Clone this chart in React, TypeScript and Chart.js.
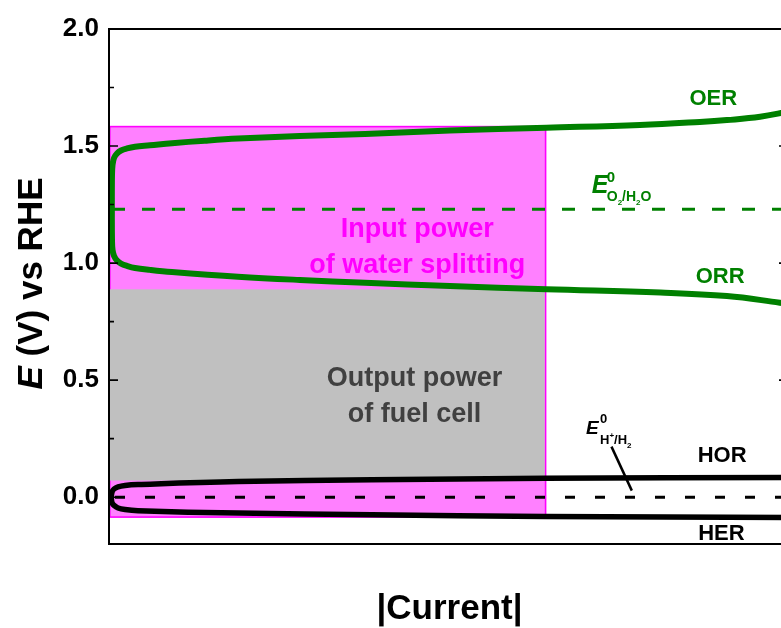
import React, { useEffect, useRef } from 'react';
import { Chart, registerables } from 'chart.js';

Chart.register(...registerables);

// Axis ranges and ticks
const X_MIN = 0;
const X_MAX = 100;
const Y_MIN = -0.2;
const Y_MAX = 2.0;
const Y_TICKS = [0, 0.5, 1.0, 1.5, 2.0];
const Y_MINOR_TICKS = [0.25, 0.75, 1.25, 1.75];

// Oxygen electrode polarization: ORR branch (high -> low current), through E0, then OER branch
const OXYGEN_CURRENT = [
  100, 98.8, 91.0, 81.2, 64.4, 50.2, 37.7, 28.1, 19.0, 9.28, 6.04, 3.83, 2.65, 1.77, 1.18, 0.74, 0.52, 0.44,
  0.42,
  0.44, 0.52, 0.74, 1.18, 1.77, 2.65, 3.83, 6.04, 9.28, 14.1, 19.0, 28.1, 37.7, 50.2, 64.4, 78.2, 87.0, 91.0, 95.9, 100,
];
const OXYGEN_POTENTIAL = [
  0.826, 0.831, 0.859, 0.874, 0.888, 0.902, 0.916, 0.928, 0.942, 0.962, 0.971, 0.979, 0.988, 0.998, 1.011, 1.031, 1.056, 1.099,
  1.231,
  1.376, 1.419, 1.449, 1.468, 1.481, 1.490, 1.497, 1.503, 1.512, 1.523, 1.532, 1.543, 1.551, 1.566, 1.578, 1.590, 1.603, 1.611, 1.625, 1.647,
];

// Hydrogen electrode polarization: HER branch (high -> low current), through E0, then HOR branch
const HYDROGEN_CURRENT = [100, 64.2, 38.7, 19.0, 4.27, 2.36, 1.33, 0.74, 0.44, 0.34, 0.44, 0.74, 1.33, 2.36, 4.27, 19.0, 38.7, 64.2, 100];
const HYDROGEN_POTENTIAL = [-0.087, -0.082, -0.075, -0.068, -0.058, -0.053, -0.046, -0.035, -0.023, 0, 0.022, 0.035, 0.044, 0.050, 0.054, 0.067, 0.074, 0.081, 0.084];

// Standard potentials
const E0_O2 = 1.23;
const E0_H2 = 0;

// Operating current and the potentials bounding the power regions
const OPERATING_CURRENT = 64.3;
const INPUT_TOP = 1.583;
const INPUT_BOTTOM = -0.085;
const OUTPUT_TOP = 0.888;
const OUTPUT_BOTTOM = 0.071;

const GREEN = '#008000';
const MAGENTA = '#FF00FF';
const PINK = '#FF80FF';
const GRAY = '#C0C0C0';
const FAMILY = '"Liberation Sans", Arial, Helvetica, sans-serif';

const bold = (size: number, italic = false) => `${italic ? 'italic ' : ''}bold ${size}px ${FAMILY}`;

type Part = { text: string; font: string; dx?: number; dy?: number };

function drawParts(ctx: CanvasRenderingContext2D, parts: Part[], x: number, y: number) {
  let cx = x;
  for (const p of parts) {
    ctx.font = p.font;
    cx += p.dx || 0;
    ctx.fillText(p.text, cx, y + (p.dy || 0));
    cx += ctx.measureText(p.text).width;
  }
}

function partsWidth(ctx: CanvasRenderingContext2D, parts: Part[]) {
  let w = 0;
  for (const p of parts) {
    ctx.font = p.font;
    w += ctx.measureText(p.text).width + (p.dx || 0);
  }
  return w;
}

const regionsPlugin = {
  id: 'powerRegions',
  beforeDatasetsDraw(chart: any) {
    const { ctx, scales } = chart;
    const x = scales.x;
    const y = scales.y;
    const x0 = x.getPixelForValue(0);
    const x1 = x.getPixelForValue(OPERATING_CURRENT);
    ctx.save();
    const pt = y.getPixelForValue(INPUT_TOP);
    const pb = y.getPixelForValue(INPUT_BOTTOM);
    ctx.fillStyle = PINK;
    ctx.fillRect(x0, pt, x1 - x0, pb - pt);
    ctx.strokeStyle = MAGENTA;
    ctx.lineWidth = 1.6;
    ctx.strokeRect(x0 + 0.8, pt, x1 - x0 - 0.8, pb - pt);
    const gt = y.getPixelForValue(OUTPUT_TOP);
    const gb = y.getPixelForValue(OUTPUT_BOTTOM);
    ctx.fillStyle = GRAY;
    ctx.fillRect(x0, gt, x1 - x0 - 0.9, gb - gt);
    ctx.restore();
  },
};

const annotationPlugin = {
  id: 'annotations',
  afterDatasetsDraw(chart: any) {
    const { ctx, scales, chartArea } = chart;
    const x = scales.x;
    const y = scales.y;
    const px = (v: number) => x.getPixelForValue(v);
    const py = (v: number) => y.getPixelForValue(v);
    ctx.save();

    // frame
    ctx.strokeStyle = '#000';
    ctx.lineWidth = 2;
    ctx.strokeRect(chartArea.left, chartArea.top, chartArea.right - chartArea.left, chartArea.bottom - chartArea.top);

    // inward ticks on left and right axes
    ctx.lineWidth = 1.6;
    ctx.beginPath();
    for (const v of Y_TICKS) {
      const yy = py(v);
      ctx.moveTo(chartArea.left, yy);
      ctx.lineTo(chartArea.left + 9, yy);
      ctx.moveTo(chartArea.right, yy);
      ctx.lineTo(chartArea.right - 9, yy);
    }
    for (const v of Y_MINOR_TICKS) {
      const yy = py(v);
      ctx.moveTo(chartArea.left, yy);
      ctx.lineTo(chartArea.left + 5, yy);
      ctx.moveTo(chartArea.right, yy);
      ctx.lineTo(chartArea.right - 5, yy);
    }
    ctx.stroke();

    ctx.textBaseline = 'alphabetic';

    // curve labels
    ctx.textAlign = 'center';
    ctx.font = bold(22);
    ctx.fillStyle = GREEN;
    ctx.fillText('OER', px(89.0), py(1.676));
    ctx.fillText('ORR', px(90.0), py(0.915));
    ctx.fillStyle = '#000';
    ctx.fillText('HOR', px(90.3), py(0.150));
    ctx.fillText('HER', px(90.2), py(-0.183));

    // region labels
    ctx.font = bold(27);
    ctx.fillStyle = MAGENTA;
    ctx.fillText('Input power', px(45.4), py(1.111));
    ctx.fillText('of water splitting', px(45.4), py(0.958));
    ctx.fillStyle = '#404040';
    ctx.fillText('Output power', px(45.0), py(0.475));
    ctx.fillText('of fuel cell', px(45.0), py(0.323));

    // E0 (O2/H2O)
    ctx.textAlign = 'left';
    ctx.fillStyle = GREEN;
    {
      const ex = px(71.1);
      const ey = py(1.301);
      ctx.font = bold(25, true);
      ctx.fillText('E', ex, ey);
      ctx.font = bold(15);
      ctx.fillText('0', ex + 15, ey - 10.7);
      drawParts(ctx, [
        { text: 'O', font: bold(14) },
        { text: '2', font: bold(8), dy: 4 },
        { text: '/H', font: bold(14) },
        { text: '2', font: bold(8), dy: 4 },
        { text: 'O', font: bold(14) },
      ], ex + 15, ey + 8);
    }

    // E0 (H+/H2)
    ctx.fillStyle = '#000';
    {
      const ex = px(70.25);
      const ey = py(0.269);
      ctx.font = bold(19, true);
      ctx.fillText('E', ex, ey);
      ctx.font = bold(13);
      ctx.fillText('0', ex + 14, ey - 11.6);
      drawParts(ctx, [
        { text: 'H', font: bold(13) },
        { text: '+', font: bold(8), dy: -6 },
        { text: '/H', font: bold(13) },
        { text: '2', font: bold(8), dy: 3.5 },
      ], ex + 14, ey + 10);
      ctx.strokeStyle = '#000';
      ctx.lineWidth = 2.5;
      ctx.beginPath();
      ctx.moveTo(px(74.0), py(0.216));
      ctx.lineTo(px(77.0), py(0.028));
      ctx.stroke();
    }

    ctx.restore();
  },
  afterDraw(chart: any) {
    const { ctx } = chart;
    ctx.save();
    ctx.fillStyle = '#000';
    ctx.textBaseline = 'alphabetic';
    ctx.textAlign = 'left';

    // y-axis title
    const yParts: Part[] = [
      { text: 'E', font: bold(35, true) },
      { text: ' (V) vs RHE', font: bold(35) },
    ];
    ctx.translate(42, 283.5);
    ctx.rotate(-Math.PI / 2);
    const w = partsWidth(ctx, yParts);
    drawParts(ctx, yParts, -w / 2, 0);
    ctx.setTransform(1, 0, 0, 1, 0, 0);

    // x-axis title
    ctx.textAlign = 'center';
    ctx.font = bold(35);
    ctx.fillText('|Current|', 449.5, 619);
    ctx.restore();
  },
};

export default function App() {
  const canvasRef = useRef<HTMLCanvasElement | null>(null);

  useEffect(() => {
    const canvas = canvasRef.current;
    if (!canvas) return;
    const oxygen = OXYGEN_CURRENT.map((c, i) => ({ x: c, y: OXYGEN_POTENTIAL[i] }));
    const hydrogen = HYDROGEN_CURRENT.map((c, i) => ({ x: c, y: HYDROGEN_POTENTIAL[i] }));
    const chart = new Chart(canvas, {
      type: 'line',
      data: {
        datasets: [
          {
            data: oxygen,
            borderColor: GREEN,
            borderWidth: 6,
            pointRadius: 0,
            tension: 0.4,
            fill: false,
          },
          {
            data: hydrogen,
            borderColor: '#000',
            borderWidth: 5.5,
            pointRadius: 0,
            tension: 0.4,
            fill: false,
          },
          {
            data: [{ x: X_MIN, y: E0_O2 }, { x: X_MAX, y: E0_O2 }],
            borderColor: GREEN,
            borderWidth: 3,
            borderDash: [13, 17],
            borderDashOffset: 27,
            pointRadius: 0,
            fill: false,
          },
          {
            data: [{ x: X_MIN, y: E0_H2 }, { x: X_MAX, y: E0_H2 }],
            borderColor: '#000',
            borderWidth: 3,
            borderDash: [10, 20],
            borderDashOffset: 24,
            pointRadius: 0,
            fill: false,
          },
        ],
      },
      options: {
        animation: false,
        responsive: false,
        layout: { padding: { left: 9, right: 12, top: 29, bottom: 84 } },
        plugins: { legend: { display: false }, tooltip: { enabled: false } },
        scales: {
          x: { type: 'linear', min: X_MIN, max: X_MAX, display: false },
          y: {
            type: 'linear',
            min: Y_MIN,
            max: Y_MAX,
            position: 'left',
            grid: { display: false, drawTicks: false },
            border: { display: false },
            afterBuildTicks: (scale: any) => {
              scale.ticks = Y_TICKS.map((v) => ({ value: v }));
            },
            afterFit: (scale: any) => {
              scale.width = 100;
            },
            ticks: {
              color: '#000',
              padding: 10,
              font: { family: FAMILY, size: 26, weight: 'bold' },
              callback: (v: any) => Number(v).toFixed(1),
            },
          },
        },
      },
      plugins: [regionsPlugin, annotationPlugin],
    } as any);
    return () => chart.destroy();
  }, []);

  return (
    <div style={{ position: 'fixed', left: 0, top: 0, width: 781, height: 628, overflow: 'hidden', background: '#fff' }}>
      <canvas ref={canvasRef} width={800} height={628} style={{ display: 'block' }} />
    </div>
  );
}
